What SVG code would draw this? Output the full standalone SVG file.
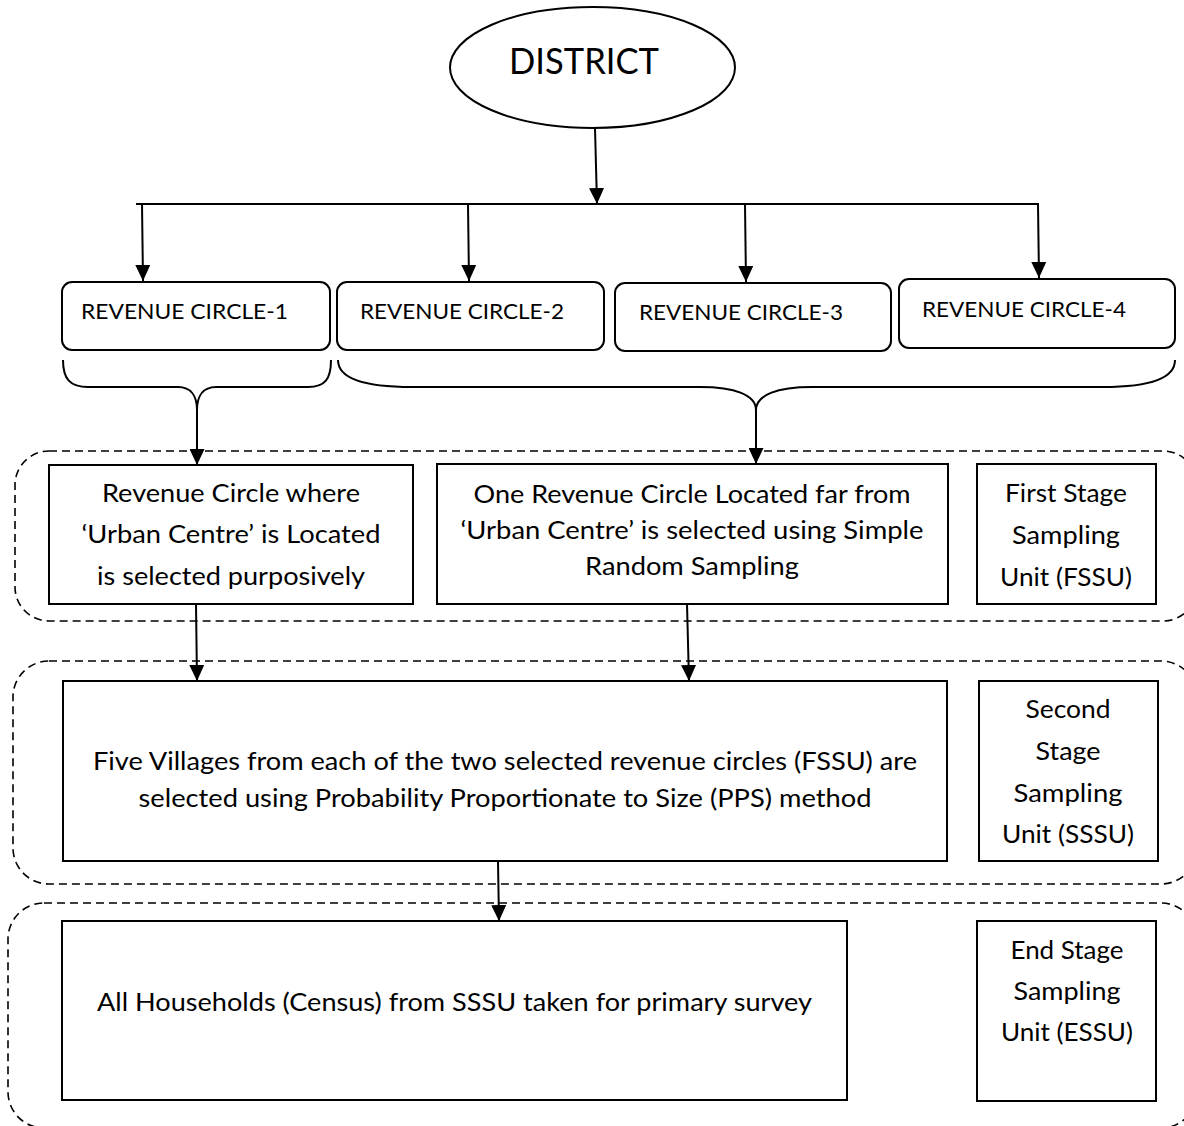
<svg xmlns="http://www.w3.org/2000/svg" width="1184" height="1126" viewBox="0 0 1184 1126">
  <defs>
    <style>
      .box { fill: #fff; stroke: #000; stroke-width: 2; }
      .dash { fill: none; stroke: #000; stroke-width: 1.6; stroke-dasharray: 8 5; }
      .line { fill: none; stroke: #000; stroke-width: 2; }
      .arrow { fill: none; stroke: #000; stroke-width: 2; marker-end: url(#ah); }
      .t { font-family: Lato, "Liberation Sans", sans-serif; font-size: 25.5px; fill: #000; text-anchor: middle; }
      .rc { font-family: Lato, "Liberation Sans", sans-serif; font-size: 21px; fill: #000; }
      .big { font-family: Lato, "Liberation Sans", sans-serif; font-size: 36px; fill: #000; text-anchor: middle; }
    </style>
    <marker id="ah" markerUnits="userSpaceOnUse" markerWidth="16" markerHeight="15" refX="16" refY="7.5" orient="auto">
      <path d="M0,0 L16,7.5 L0,15 Z" fill="#000"/>
    </marker>
  </defs>
  <rect width="1184" height="1126" fill="#fff"/>

  <!-- stage frames -->
  <g id="stage-frames">
    <rect class="dash" x="15" y="451" width="1182" height="170" rx="34"/>
    <rect class="dash" x="13" y="661" width="1184" height="223" rx="36"/>
    <rect class="dash" x="8" y="903" width="1189" height="225" rx="36"/>
  </g>

  <g id="district">
    <ellipse cx="592.5" cy="67.5" rx="142.5" ry="60.5" fill="#fff" stroke="#000" stroke-width="2"/>
    <text class="big" x="584" y="74" textLength="150" lengthAdjust="spacingAndGlyphs">DISTRICT</text>
  </g>

  <g id="rc1">
    <rect class="box" x="62" y="282" width="268" height="68" rx="10"/>
    <text class="rc" x="81" y="319" textLength="207" lengthAdjust="spacingAndGlyphs">REVENUE CIRCLE-1</text>
  </g>
  <g id="rc2">
    <rect class="box" x="337" y="282" width="267" height="68" rx="10"/>
    <text class="rc" x="360" y="319" textLength="204" lengthAdjust="spacingAndGlyphs">REVENUE CIRCLE-2</text>
  </g>
  <g id="rc3">
    <rect class="box" x="615" y="283" width="276" height="68" rx="10"/>
    <text class="rc" x="639" y="320" textLength="204" lengthAdjust="spacingAndGlyphs">REVENUE CIRCLE-3</text>
  </g>
  <g id="rc4">
    <rect class="box" x="899" y="279" width="276" height="69" rx="10"/>
    <text class="rc" x="922" y="317" textLength="204" lengthAdjust="spacingAndGlyphs">REVENUE CIRCLE-4</text>
  </g>

  <g id="urban-rc">
    <rect class="box" x="49" y="465" width="364" height="139"/>
    <text class="t" x="231" y="502" textLength="258" lengthAdjust="spacingAndGlyphs">Revenue Circle where</text>
    <text class="t" x="231" y="543" textLength="299" lengthAdjust="spacingAndGlyphs">‘Urban Centre’ is Located</text>
    <text class="t" x="231" y="585" textLength="268" lengthAdjust="spacingAndGlyphs">is selected purposively</text>
  </g>
  <g id="far-rc">
    <rect class="box" x="437" y="464" width="511" height="140"/>
    <text class="t" x="692" y="503" textLength="437" lengthAdjust="spacingAndGlyphs">One Revenue Circle Located far from</text>
    <text class="t" x="692" y="539" textLength="463" lengthAdjust="spacingAndGlyphs">‘Urban Centre’ is selected using Simple</text>
    <text class="t" x="692" y="575" textLength="214" lengthAdjust="spacingAndGlyphs">Random Sampling</text>
  </g>
  <g id="fssu">
    <rect class="box" x="977" y="464" width="179" height="140"/>
    <text class="t" x="1066" y="502" textLength="122" lengthAdjust="spacingAndGlyphs">First Stage</text>
    <text class="t" x="1066" y="544" textLength="108" lengthAdjust="spacingAndGlyphs">Sampling</text>
    <text class="t" x="1066" y="586" textLength="132" lengthAdjust="spacingAndGlyphs">Unit (FSSU)</text>
  </g>

  <g id="villages">
    <rect class="box" x="63" y="681" width="884" height="180"/>
    <text class="t" x="505" y="770" textLength="824" lengthAdjust="spacingAndGlyphs">Five Villages from each of the two selected revenue circles (FSSU) are</text>
    <text class="t" x="505" y="807" textLength="733" lengthAdjust="spacingAndGlyphs">selected using Probability Proportionate to Size (PPS) method</text>
  </g>
  <g id="sssu">
    <rect class="box" x="979" y="681" width="179" height="180"/>
    <text class="t" x="1068" y="718" textLength="85" lengthAdjust="spacingAndGlyphs">Second</text>
    <text class="t" x="1068" y="760" textLength="65" lengthAdjust="spacingAndGlyphs">Stage</text>
    <text class="t" x="1068" y="802" textLength="109" lengthAdjust="spacingAndGlyphs">Sampling</text>
    <text class="t" x="1068" y="843" textLength="132" lengthAdjust="spacingAndGlyphs">Unit (SSSU)</text>
  </g>

  <g id="households">
    <rect class="box" x="62" y="921" width="785" height="179"/>
    <text class="t" x="454.5" y="1011" textLength="715" lengthAdjust="spacingAndGlyphs">All Households (Census) from SSSU taken for primary survey</text>
  </g>
  <g id="essu">
    <rect class="box" x="977" y="921" width="179" height="180"/>
    <text class="t" x="1067" y="959" textLength="113" lengthAdjust="spacingAndGlyphs">End Stage</text>
    <text class="t" x="1067" y="1000" textLength="107" lengthAdjust="spacingAndGlyphs">Sampling</text>
    <text class="t" x="1067" y="1041" textLength="132" lengthAdjust="spacingAndGlyphs">Unit (ESSU)</text>
  </g>

  <g id="connectors">
    <line class="arrow" x1="595" y1="128" x2="597" y2="204"/>
    <line class="line" x1="136" y1="204" x2="1039" y2="204"/>
    <line class="arrow" x1="142" y1="204" x2="143" y2="281"/>
    <line class="arrow" x1="468" y1="204" x2="469" y2="281"/>
    <line class="arrow" x1="745" y1="204" x2="746" y2="282"/>
    <line class="arrow" x1="1038" y1="204" x2="1039" y2="278"/>
    <path class="line" d="M63,360 C63,379 70,387 88,387 L178,387 C191,387 197,396 197,410 C197,396 203,387 216,387 L308,387 C325,387 331,379 331,360"/>
    <path class="line" d="M338,360 C338,378 362,387 412,387 L700,387 C735,387 756,395 756,410 C756,395 777,387 812,387 L1103,387 C1150,387 1175,378 1175,360"/>
    <line class="arrow" x1="197" y1="410" x2="197" y2="465"/>
    <line class="arrow" x1="756" y1="410" x2="756" y2="464"/>
    <line class="arrow" x1="196" y1="604" x2="197" y2="681"/>
    <line class="arrow" x1="687" y1="604" x2="689" y2="681"/>
    <line class="arrow" x1="498" y1="862" x2="499" y2="921"/>
  </g>
</svg>
